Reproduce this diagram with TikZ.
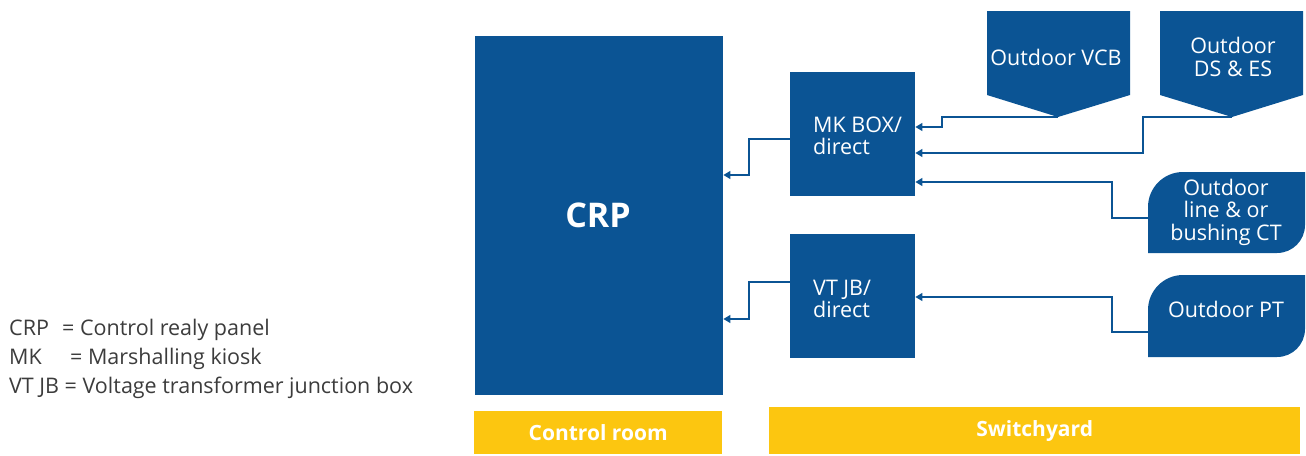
\documentclass[tikz,border=0pt]{standalone}
\usepackage{fontspec}
\setmainfont{Open Sans}
\usetikzlibrary{arrows.meta}
\definecolor{cblue}{RGB}{11,84,148}
\definecolor{cyellow}{RGB}{252,198,16}
\definecolor{cgray}{RGB}{60,60,60}
\begin{document}
\begin{tikzpicture}[x=1pt,y=-1pt,
  box/.style={fill=cblue,draw=none,inner sep=0pt,anchor=north west},
  wtext/.style={text=white,font=\fontsize{21.5}{22.5}\selectfont,align=center,inner sep=0pt},
  ltext/.style={text=white,font=\fontsize{21.5}{22.5}\selectfont,align=left,inner sep=0pt},
  bar/.style={fill=cyellow,draw=none,inner sep=0pt,anchor=north west},
  bartext/.style={text=white,font=\fontsize{21}{22}\selectfont\bfseries,inner sep=0pt},
  leg/.style={text=cgray,font=\fontsize{21.5}{22}\selectfont,inner sep=0pt,anchor=base west},
  conn/.style={draw=cblue,line width=1.2pt,-{Triangle[length=7pt,width=8pt]}}]
\useasboundingbox (0,0) rectangle (1306,455);
% main boxes
\node[box,minimum width=248pt,minimum height=359pt] (crp) at (475,36) {};
\node[text=white,font=\fontsize{34}{38}\selectfont\bfseries,inner sep=0pt] (crpt) at (598,215) {CRP};
\node[box,minimum width=125pt,minimum height=124pt] (mk) at (790,72) {};
\node[ltext,anchor=west] (mkt) at (813,136) {MK BOX/\\direct};
\node[box,minimum width=125pt,minimum height=124pt] (vt) at (790,234) {};
\node[ltext,anchor=west] (vtt) at (813,299) {VT JB/\\direct};
% pentagons
\fill[cblue] (987,11) -- (1130,11) -- (1130,95) -- (1058,117) -- (987,95) -- cycle;
\coordinate (vcbtip) at (1058,117);
\node[wtext] (vcb) at (1056,57) {Outdoor VCB};
\fill[cblue] (1160,11) -- (1303,11) -- (1303,95) -- (1232,117) -- (1160,95) -- cycle;
\coordinate (dstip) at (1232,117);
\node[wtext] (ds) at (1233,57) {Outdoor\\DS \& ES};
% rounded shapes
\fill[cblue] (1148,253) -- (1148,207) .. controls (1148,187.7) and (1163.7,172) .. (1183,172) -- (1305,172) -- (1305,225) .. controls (1305,240.5) and (1292.5,253) .. (1277,253) -- cycle;
\coordinate (ctin) at (1148,218);
\node[wtext] (ct) at (1226,212) {Outdoor\\line \& or\\bushing CT};
\fill[cblue] (1148,357) -- (1148,310) .. controls (1148,290.7) and (1163.7,275) .. (1183,275) -- (1305,275) -- (1305,329) .. controls (1305,344.5) and (1292.5,357) .. (1277,357) -- cycle;
\coordinate (ptin) at (1148,332);
\node[wtext] (pt) at (1226,309) {Outdoor PT};
% connectors
\draw[conn] (vcbtip) -- (942,117) -- (942,127) -- (mk.east |- 0,127);
\draw[conn] (dstip) -- (1143,117) -- (1143,153) -- (mk.east |- 0,153);
\draw[conn] (ctin) -- (1112,218) -- (1112,182) -- (mk.east |- 0,182);
\draw[conn] (ptin) -- (1112,332) -- (1112,297) -- (vt.east |- 0,297);
\draw[conn] (mk.west |- 0,139) -- (749,139) -- (749,175) -- (crp.east |- 0,175);
\draw[conn] (vt.west |- 0,282) -- (749,282) -- (749,319) -- (crp.east |- 0,319);
% bars
\node[bar,minimum width=248pt,minimum height=43pt] (cr) at (474,411) {};
\node[bartext] (crt) at (cr.center) {Control room};
\node[bar,minimum width=531pt,minimum height=47pt] (sy) at (769,407) {};
\node[bartext] (syt) at (sy.center) {Switchyard};
% legend
\node[leg] (l1) at (9,335) {CRP};
\node[leg] (l1b) at (62,335) {= Control realy panel};
\node[leg] (l2) at (9,364) {MK};
\node[leg] (l2b) at (70,364) {= Marshalling kiosk};
\node[leg] (l3) at (9,393) {VT JB = Voltage transformer junction box};
\end{tikzpicture}
\end{document}
